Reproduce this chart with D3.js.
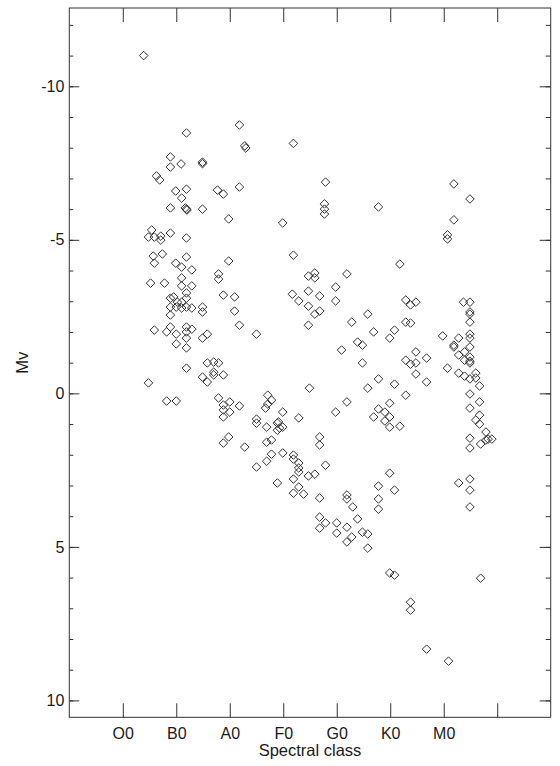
<!DOCTYPE html>
<html>
<head>
<meta charset="utf-8">
<script src="https://cdn.jsdelivr.net/npm/d3@7"></script>
<style>
  body { margin: 0; background: #fff; }
  svg text { font-family: "Liberation Sans", Arial, sans-serif; }
</style>
</head>
<body>
<div id="chart"></div>
<script>
// spectral class as a number: O0 = 0, B0 = 1, A0 = 2, F0 = 3, G0 = 4, K0 = 5, M0 = 6
const spectral = [
  0.39, 2.18, 1.19, 2.28, 2.30, 3.19, 0.89, 0.89, 1.09, 1.49, 1.49, 0.63, 0.69, 0.99, 1.19, 1.10, 1.77, 1.88, 2.18, 3.79,
  6.19, 0.89, 1.19, 1.20, 1.17, 1.49, 1.98, 2.99, 3.77, 3.77, 3.77, 4.78, 6.49, 6.19, 6.07, 6.07, 0.54, 0.48, 0.59, 0.71,
  0.71, 0.89, 1.19, 3.19, 0.57, 0.74, 0.59, 1.19, 0.99, 1.10, 1.29, 1.98, 5.18,
  3.47, 3.59, 3.59, 4.19, 3.17, 3.29, 3.47, 3.68, 3.98, 3.98, 3.47, 3.59, 3.68, 3.47, 4.58, 4.28, 4.69, 4.39, 4.48, 4.09,
  4.48, 5.08, 4.99, 5.29, 5.38, 5.48, 5.29, 5.38, 5.48, 5.29, 5.38, 5.48, 5.68, 5.48, 5.68, 3.49,
  5.98, 6.19, 6.19, 6.28, 6.07, 6.28, 6.28, 6.39, 6.37, 6.49, 6.49, 6.49, 6.49, 6.49, 6.49, 6.49, 6.39, 6.49, 6.49, 6.49,
  6.39, 6.49, 6.60, 6.60, 6.67, 6.49, 6.67, 6.49, 6.67, 6.60, 6.67, 6.79, 6.79, 6.90, 6.69, 6.49, 6.49, 6.28, 6.49, 6.49,
  6.49, 6.69, 6.83,
  4.58, 4.78, 5.08, 5.29, 3.98, 4.19, 4.69, 4.78, 4.90, 4.99, 4.99, 4.90, 4.99, 5.18, 3.68, 3.68, 3.79, 4.99, 4.78, 5.08,
  4.78, 4.78, 4.19, 4.19, 4.30, 3.68, 3.68, 3.79, 3.68, 4.00, 4.00, 4.19, 4.19, 4.28, 4.39, 4.48, 4.58, 4.58, 4.99, 5.08,
  5.38, 5.38, 5.68, 6.09,
  2.99, 3.29, 2.99, 2.93, 2.71, 2.78, 2.71, 2.67, 2.91, 2.50, 2.50, 2.69, 2.89, 2.89, 1.98, 1.88, 2.28, 2.69, 2.78, 2.78,
  2.69, 2.99, 2.50, 3.19, 3.19, 3.29, 3.29, 3.29, 3.19, 3.29, 2.89, 3.47, 3.59, 3.19, 3.38,
  1.79, 1.79, 1.88, 2.09, 2.09, 2.18, 2.50, 1.19, 1.58, 1.70, 1.79, 1.70, 1.70, 1.49, 1.58, 1.88, 0.48, 0.82, 1.00, 1.79,
  1.88, 2.00, 1.88, 2.00, 1.88, 2.18,
  0.52, 0.78, 1.10, 1.10, 1.29, 1.19, 1.19, 0.89, 0.95, 1.02, 1.10, 0.89, 1.00, 1.10, 1.19, 1.29, 0.89, 1.49, 1.49, 0.59,
  0.82, 0.89, 1.00, 1.19, 1.19, 1.29, 1.19, 1.00, 1.19, 1.49, 1.58
]

// absolute visual magnitude, same order as spectral
const mv = [
  -11.0, -8.74, -8.48, -8.06, -7.99, -8.14, -7.70, -7.37, -7.47, -7.53, -7.48, -7.08, -6.95, -6.59, -6.65, -6.36, -6.62, -6.49, -6.72, -6.88,
  -6.82, -6.04, -6.00, -5.97, -6.04, -6.00, -5.68, -5.55, -6.17, -6.00, -5.84, -6.07, -6.33, -5.65, -5.16, -5.03, -5.32, -5.09, -5.09, -5.12,
  -4.99, -5.22, -5.06, -4.50, -4.47, -4.54, -4.24, -4.44, -4.24, -4.11, -4.02, -4.31, -4.21,
  -3.82, -3.92, -3.76, -3.89, -3.23, -3.01, -3.33, -3.17, -3.46, -3.01, -2.84, -2.58, -2.68, -2.22, -2.58, -2.32, -2.00, -1.67, -1.57, -1.41,
  -0.99, -2.06, -1.80, -3.04, -2.88, -2.97, -2.32, -2.29, -1.35, -1.08, -0.95, -0.99, -1.15, -0.63, -0.37, -0.17,
  -1.87, -1.57, -1.51, -1.80, -0.82, -1.25, -0.66, -0.56, -2.97, -2.97, -2.65, -2.58, -2.32, -1.93, -1.80, -1.51, -1.35, -1.18, -1.05, -0.99,
  -1.08, -0.47, -0.50, -0.66, -0.24, 0.02, 0.28, 0.48, 0.71, 0.87, 1.00, 1.26, 1.52, 1.49, 1.65, 1.46, 1.78, 2.92, 2.79, 3.15,
  3.70, 6.02, 1.49,
  -0.17, -0.47, -0.30, 0.06, 0.61, 0.28, 0.77, 0.51, 0.61, 0.32, 0.77, 0.90, 1.10, 1.07, 1.42, 1.68, 2.34, 2.60, 3.02, 3.15,
  3.44, 3.77, 3.31, 3.44, 3.70, 3.41, 4.03, 4.22, 4.39, 4.22, 4.55, 4.36, 4.84, 4.68, 4.09, 4.52, 4.58, 5.04, 5.85, 5.92,
  6.80, 7.06, 8.33, 8.72,
  0.61, 0.80, 1.10, 1.13, 0.06, 0.22, 0.35, 0.48, 0.93, 0.84, 0.97, 1.10, 0.97, 1.20, 1.42, 1.62, 1.75, 1.59, 1.52, 1.98,
  2.21, 1.94, 2.40, 2.01, 2.14, 2.27, 2.43, 2.56, 2.79, 3.05, 2.92, 2.69, 2.63, 3.25, 3.28,
  -3.89, -3.72, -3.20, -3.14, -2.68, -2.22, -1.93, -0.82, -0.99, -1.02, -0.99, -0.69, -0.60, -0.53, -0.37, -0.60, -0.34, 0.25, 0.25, 0.15,
  0.38, 0.28, 0.54, 0.61, 0.77, 0.41,
  -3.59, -3.59, -3.76, -3.50, -3.50, -3.27, -3.10, -3.10, -3.14, -2.97, -2.97, -2.81, -2.81, -2.78, -2.81, -2.78, -2.55, -2.81, -2.65, -2.06,
  -2.00, -2.16, -1.93, -2.16, -2.00, -2.09, -1.80, -1.61, -1.48, -1.80, -1.93
]

const classLabels = ["O0", "B0", "A0", "F0", "G0", "K0", "M0", ""]
const mvTicks = [-10, -5, 0, 5, 10]
const mvMinor = d3.range(-12, 11)

const width = 560
const height = 766
const frame = { left: 69.3, right: 550.7, top: 8, bottom: 717.3 }
const ink = "#333"

const svg = d3.select("#chart")
    .append("svg")
    .attr("width", width)
    .attr("height", height)

const x = d3.scaleLinear()
    .domain([-1, 8])
    .range([frame.left, frame.right])

const y = d3.scaleLinear()
    .domain([-12.55, 10.55])
    .range([frame.top, frame.bottom])

const classIdx = d3.range(classLabels.length)

// bottom axis, ticks pointing in
svg.append("g")
    .attr("transform", `translate(0,${frame.bottom})`)
    .call(d3.axisBottom(x).tickValues(classIdx).tickSize(-14).tickSizeOuter(0).tickPadding(10)
        .tickFormat(i => classLabels[i]))
    .call(g => g.select(".domain").remove())

// top axis, no labels
svg.append("g")
    .attr("transform", `translate(0,${frame.top})`)
    .call(d3.axisTop(x).tickValues(classIdx).tickSize(-14).tickSizeOuter(0).tickFormat(""))
    .call(g => g.select(".domain").remove())

// left axis
svg.append("g")
    .attr("transform", `translate(${frame.left},0)`)
    .call(d3.axisLeft(y).tickValues(mvMinor).tickSize(-4).tickSizeOuter(0).tickFormat(""))
    .call(g => g.select(".domain").remove())

svg.append("g")
    .attr("transform", `translate(${frame.left},0)`)
    .call(d3.axisLeft(y).tickValues(mvTicks).tickSize(-10).tickSizeOuter(0).tickPadding(5)
        .tickFormat(d => String(d)))
    .call(g => g.select(".domain").remove())

// right axis
svg.append("g")
    .attr("transform", `translate(${frame.right},0)`)
    .call(d3.axisRight(y).tickValues(mvMinor).tickSize(-5).tickSizeOuter(0).tickFormat(""))
    .call(g => g.select(".domain").remove())

svg.append("g")
    .attr("transform", `translate(${frame.right},0)`)
    .call(d3.axisRight(y).tickValues(mvTicks).tickSize(-11).tickSizeOuter(0).tickFormat(""))
    .call(g => g.select(".domain").remove())

svg.selectAll(".tick line").attr("stroke", ink)
svg.selectAll(".tick text")
    .attr("font-size", 16)
    .attr("fill", "#1a1a1a")

// frame
svg.append("rect")
    .attr("x", frame.left)
    .attr("y", frame.top)
    .attr("width", frame.right - frame.left)
    .attr("height", frame.bottom - frame.top)
    .attr("fill", "none")
    .attr("stroke", ink)
    .attr("stroke-width", 1)

// stars
const diamond = "M0,-4.3L4.3,0L0,4.3L-4.3,0Z"

svg.append("g")
    .selectAll("path")
    .data(d3.range(spectral.length))
    .enter()
    .append("path")
    .attr("d", diamond)
    .attr("transform", i => `translate(${x(spectral[i])},${y(mv[i])})`)
    .attr("fill", "none")
    .attr("stroke", "#333")
    .attr("stroke-width", 1)

svg.append("text")
    .attr("x", (frame.left + frame.right) / 2)
    .attr("y", 756)
    .attr("text-anchor", "middle")
    .attr("font-size", 16.5)
    .attr("fill", "#1a1a1a")
    .text("Spectral class")

svg.append("text")
    .attr("transform", `translate(28,${(frame.top + frame.bottom) / 2}) rotate(-90)`)
    .attr("text-anchor", "middle")
    .attr("font-size", 16.5)
    .attr("fill", "#1a1a1a")
    .text("Mv")
</script>
</body>
</html>
